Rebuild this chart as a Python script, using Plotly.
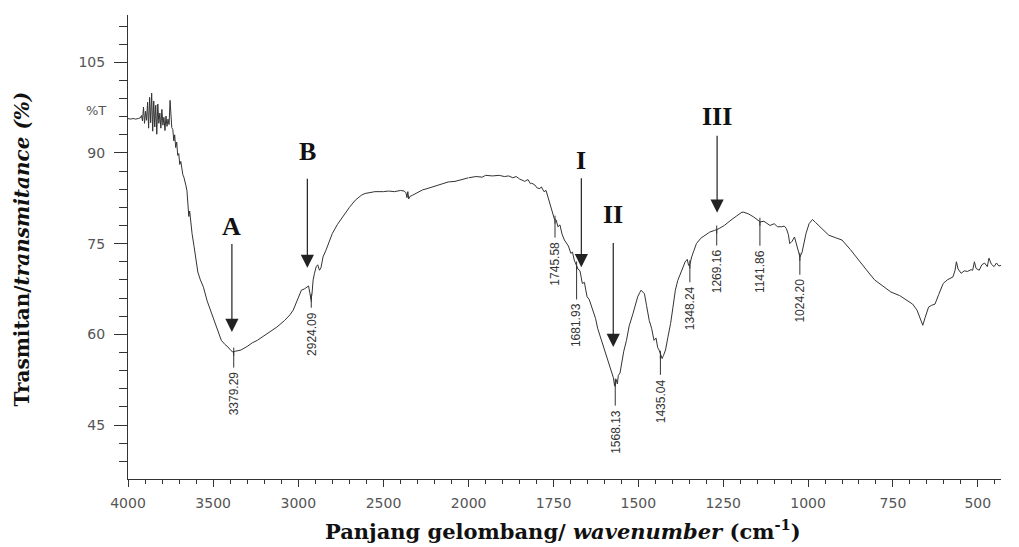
import numpy as np
import plotly.graph_objects as go

# ---------------- data ----------------
wavenumber = [
    4000, 3985, 3970, 3955, 3940, 3928, 3921, 3915, 3909, 3903, 3897, 3891, 3885, 3879, 3873,
    3867, 3861, 3855, 3849, 3843, 3837, 3831, 3825, 3819, 3813, 3807, 3801, 3795, 3789, 3783,
    3777, 3771, 3765, 3759, 3753, 3748, 3743, 3737, 3731, 3726, 3720, 3714, 3708, 3702, 3696,
    3690, 3684, 3678, 3672, 3666, 3660, 3654, 3648, 3643, 3638, 3632, 3624, 3612, 3600, 3590,
    3575, 3557, 3535, 3509, 3480, 3452, 3430, 3413, 3395, 3385, 3370, 3337, 3300, 3270, 3241,
    3200, 3160, 3126, 3080, 3050, 3030, 3000, 2982, 2965, 2953, 2940, 2932, 2926, 2920, 2913,
    2905, 2895, 2886, 2876, 2867, 2855, 2838, 2820, 2800, 2770, 2742, 2700, 2665, 2630, 2608,
    2580, 2550, 2500, 2470, 2435, 2400, 2378, 2368, 2362, 2357, 2352, 2345, 2330, 2300, 2270,
    2244, 2200, 2170, 2148, 2120, 2080, 2052, 2025, 2000,
    1978, 1960, 1950, 1930, 1910, 1895, 1882, 1870, 1860, 1850, 1843, 1835, 1825, 1818, 1814,
    1805, 1798, 1790, 1786, 1778, 1772, 1766, 1759, 1752, 1747, 1742, 1737, 1731, 1725, 1718,
    1712, 1706, 1699, 1694, 1689, 1684, 1678, 1672, 1665, 1659, 1651, 1645, 1640, 1632, 1626,
    1620, 1612, 1604, 1593, 1584, 1574, 1570, 1566, 1562, 1559, 1554, 1550, 1543, 1535, 1527,
    1516, 1508, 1502, 1496, 1492, 1487, 1482, 1476, 1468, 1461, 1454, 1448, 1443, 1439, 1434,
    1430, 1426, 1420, 1413, 1405, 1398, 1391, 1384, 1376, 1369, 1362, 1356, 1352, 1348, 1343,
    1336, 1329, 1316, 1304, 1290, 1275, 1262, 1247, 1235, 1227, 1210, 1195, 1189, 1175, 1160,
    1150, 1141, 1130, 1120, 1112, 1100, 1090, 1078, 1070, 1064, 1058, 1054, 1047, 1040, 1032,
    1024, 1018, 1012, 1006, 997, 987, 978, 968, 955, 939, 920, 900, 875, 852, 830,
    804, 780, 756, 730, 708, 692, 679, 670, 662, 655, 645, 636, 626, 615, 602,
    590, 578, 573, 567, 563, 558, 549, 540, 530, 520, 515, 510, 505, 496, 488,
    480, 472, 467, 460, 452, 445, 438, 431,
]
transmittance = [
    95.7, 95.6, 95.7, 95.6, 95.7, 95.8, 96.2, 95.3, 97.6, 94.9, 96.9, 95.4, 98.4, 94.1, 99.2,
    95.0, 99.9, 93.6, 98.6, 94.3, 97.9, 93.1, 98.1, 94.9, 96.6, 94.1, 97.2, 94.6, 95.9, 93.7,
    96.1, 94.4, 95.6, 94.7, 98.7, 95.1, 94.2, 93.9, 92.0, 93.0, 90.9, 91.8, 89.6, 89.9, 88.1,
    88.6, 87.0, 86.4, 86.0, 84.9, 84.6, 83.8, 81.6, 79.5, 80.4, 78.3, 76.7, 74.5, 71.9, 70.3,
    69.0, 67.8, 65.5, 63.4, 61.0, 59.0, 58.3, 57.9, 57.3, 57.1, 57.2, 57.4, 58.0, 58.6, 59.0,
    59.8, 60.6, 61.2, 62.3, 63.2, 64.0, 66.0, 67.3, 67.5, 67.7, 68.0, 66.8, 65.8, 66.6, 69.0,
    70.1, 71.2, 71.5, 70.6, 71.0, 72.8, 73.9, 75.4, 76.7, 78.2, 79.4, 81.0, 82.2, 83.0, 83.3,
    83.5, 83.6, 83.6, 83.7, 83.6, 83.8, 83.7, 83.4, 82.6, 83.6, 82.4, 82.8, 83.0, 83.5, 83.9,
    84.1, 84.5, 84.7, 84.9, 85.2, 85.3, 85.5, 85.7, 85.9,
    86.1, 86.0, 86.3, 86.2, 86.3, 86.1, 86.2, 85.9, 86.1, 85.7, 85.5, 85.3, 85.6, 84.9, 85.0,
    84.7, 84.2, 84.1, 84.4, 83.6, 83.8, 82.7, 81.2, 80.0, 79.0, 78.9, 77.8, 78.1, 76.6, 75.6,
    75.0, 74.6, 73.4, 73.6, 72.3, 71.7, 70.8, 70.5, 68.4, 68.6, 66.2, 65.8, 65.0, 63.4, 62.6,
    61.0, 59.6, 58.2, 56.3, 54.8, 52.9, 51.5, 52.6, 51.8, 53.2, 53.6, 55.2, 57.2, 59.0, 61.4,
    63.4, 65.0, 66.2, 66.9, 67.3, 67.0, 66.7, 64.8, 62.3, 61.0, 59.0, 59.4, 57.8, 57.4, 56.4,
    56.0, 56.5, 57.4, 59.5, 61.8, 64.5, 67.3, 68.9, 70.1, 71.0, 72.0, 72.4, 71.4, 71.6, 72.8,
    73.9, 75.0, 75.9, 76.4, 76.9, 77.2, 77.5, 78.0, 78.6, 78.9, 79.6, 80.2, 80.2, 79.9, 79.4,
    78.9, 78.6, 78.7, 78.3, 78.0, 78.3, 77.8, 77.8, 77.9, 77.5, 76.5, 75.0, 75.4, 76.1, 74.3,
    72.8, 73.5, 75.3, 76.7, 78.3, 79.0, 78.5, 78.0, 77.3, 76.4, 76.0, 75.6, 74.0, 72.3, 70.8,
    69.0, 68.0, 67.0, 66.4, 65.6, 65.0, 64.0, 62.8, 61.5, 62.8, 64.5, 64.8, 65.0, 66.6, 68.4,
    69.0, 69.3, 69.5, 70.6, 72.0, 70.8, 70.1, 70.5, 70.4, 70.7, 70.6, 72.0, 70.9, 70.6, 71.5,
    71.8, 71.2, 72.6, 71.6, 71.2, 71.8, 71.3, 71.4,
]

peak_labels = ["3379.29", "2924.09", "1745.58", "1681.93", "1568.13",
               "1435.04", "1348.24", "1269.16", "1141.86", "1024.20"]
peak_wn = [3379.29, 2924.09, 1745.58, 1681.93, 1568.13, 1435.04, 1348.24, 1269.16, 1141.86, 1024.20]

group_labels = ["A", "B", "I", "II", "III"]
group_arrow_wn = [3390, 2947, 1668, 1574, 1268]
group_arrow_tip = [60.4, 71.0, 71.1, 57.9, 80.1]

x_tick_left = [4000, 3500, 3000, 2500, 2000]
x_tick_right = [1750, 1500, 1250, 1000, 750, 500]
y_ticks = [45, 60, 75, 90, 105]

# ---------------- style ----------------
PX_PER_UNIT = 6.045          # vertical pixels per % T
label_gap_px = [18, 12, 20, 36, 25, 22, 20, 18, 26, 20]
group_text_offset_px = [105, 116, 107, 133, 96]   # text centre above arrow tip
arrow_len_px = [89, 90, 90, 105, 78]
TEXT_HALF_HEIGHT = 15

LINE = "#333333"
TICKFONT = dict(family="DejaVu Sans", size=14, color="#555555")
SPLIT = 0.3902

w = np.array(wavenumber, dtype=float)
t = np.array(transmittance, dtype=float)
left = w >= 2000
right = w <= 2000

fig = go.Figure()
fig.add_trace(go.Scatter(x=w[left], y=t[left], mode="lines", xaxis="x", yaxis="y",
                         line=dict(color=LINE, width=1), showlegend=False))
fig.add_trace(go.Scatter(x=w[right], y=t[right], mode="lines", xaxis="x2", yaxis="y",
                         line=dict(color=LINE, width=1), showlegend=False))


def xref_for(v):
    return "x" if v >= 2000 else "x2"


annotations = []
shapes = []
order = np.argsort(w)
for lab, pw, gap in zip(peak_labels, peak_wn, label_gap_px):
    cv = float(np.interp(pw, w[order], t[order]))
    xr = xref_for(pw)
    bottom = cv - (gap - 2) / PX_PER_UNIT
    shapes.append(dict(type="line", xref=xr, yref="y", x0=pw, x1=pw, y0=cv, y1=bottom,
                       line=dict(color=LINE, width=1)))
    shapes.append(dict(type="line", xref=xr, yref="y", x0=pw, x1=pw,
                       y0=cv + 4 / PX_PER_UNIT, y1=cv - 4 / PX_PER_UNIT,
                       line=dict(color=LINE, width=1)))
    annotations.append(dict(x=pw, y=cv, xref=xr, yref="y", text=lab, showarrow=False,
                            textangle=-90, xanchor="center", yanchor="top", yshift=-gap,
                            font=dict(family="Liberation Sans", size=12, color="#333333")))

for lab, aw, tip, dy, ln in zip(group_labels, group_arrow_wn, group_arrow_tip,
                                group_text_offset_px, arrow_len_px):
    xr = xref_for(aw)
    annotations.append(dict(x=aw, y=tip, xref=xr, yref="y", text="<b>%s</b>" % lab,
                            showarrow=True, ax=0, ay=-dy,
                            startstandoff=max(0, dy - ln - TEXT_HALF_HEIGHT), standoff=0,
                            arrowhead=2, arrowsize=2.2, arrowwidth=1.2, arrowcolor="#222222",
                            font=dict(family="Liberation Serif", size=26, color="#111111")))

# %T label and axis titles
annotations.append(dict(x=-0.037, y=0.795, xref="paper", yref="paper", text="%T",
                        showarrow=False, xanchor="center", yanchor="middle",
                        font=dict(family="DejaVu Sans", size=13, color="#555555")))
annotations.append(dict(x=-0.1212, y=0.495, xref="paper", yref="paper",
                        text="<b>Trasmitan/<i>transmitance (%)</i></b>", textangle=-90,
                        showarrow=False, xanchor="center", yanchor="middle",
                        font=dict(family="DejaVu Serif", size=20, color="#111111")))
annotations.append(dict(x=0.498, y=-0.11, xref="paper", yref="paper",
                        text="<b>Panjang gelombang/ <i>wavenumber</i> (cm<sup>-1</sup>)</b>",
                        showarrow=False, xanchor="center", yanchor="middle",
                        font=dict(family="DejaVu Serif", size=21, color="#111111")))

common_x = dict(showgrid=False, zeroline=False, showline=True, linecolor=LINE, linewidth=1,
                ticks="outside", ticklen=7, tickcolor=LINE, tickfont=TICKFONT,
                ticklabelstandoff=4)

fig.update_layout(
    width=1019, height=547,
    margin=dict(l=128, r=0, t=15, b=68),
    paper_bgcolor="white", plot_bgcolor="white",
    xaxis=dict(domain=[0, SPLIT], range=[4000, 2000], anchor="y",
               tickvals=x_tick_left, ticktext=[str(v) for v in x_tick_left],
               minor=dict(dtick=100, tick0=0, ticklen=4, tickcolor=LINE, ticks="outside"),
               **common_x),
    xaxis2=dict(domain=[SPLIT, 1], range=[2000, 431.6], anchor="y",
                tickvals=x_tick_right, ticktext=[str(v) for v in x_tick_right],
                minor=dict(dtick=50, tick0=0, ticklen=4, tickcolor=LINE, ticks="outside"),
                **common_x),
    yaxis=dict(range=[36.07, 112.82], tickvals=y_ticks, showgrid=False, zeroline=False,
               showline=True, linecolor=LINE, linewidth=1, ticks="outside", ticklen=13,
               tickcolor=LINE, tickfont=TICKFONT, ticklabelstandoff=6,
               minor=dict(dtick=3, tick0=0, ticklen=8, tickcolor=LINE, ticks="outside")),
    annotations=annotations,
    shapes=shapes,
)

fig.write_html("out.html", config={"displayModeBar": False},
               post_script="document.body.style.margin='0';")
